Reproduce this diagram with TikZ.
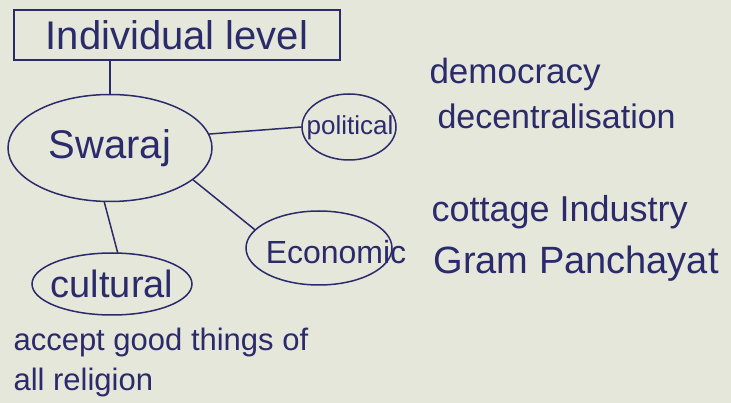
\documentclass[tikz,border=0pt]{standalone}
\usepackage{fontspec}
\setmainfont{Liberation Sans}
\usetikzlibrary{shapes.geometric}
\definecolor{inkblue}{HTML}{2B2A6B}
\definecolor{paper}{HTML}{E5E7DB}
\newcommand\fsz[1]{\fontsize{#1}{#1}\selectfont}
\tikzset{every node/.style={font=\fsz{34},text=inkblue},
  ink/.style={draw=inkblue,line width=1.5pt},
  bubble/.style={ink,ellipse,inner sep=0pt},
  notes/.style={anchor=west,align=left}}

\begin{document}
\begin{tikzpicture}[x=1pt,y=-1pt,line cap=round]
  \fill[paper] (0,0) rectangle (731,403);
  \path[use as bounding box] (0,0) rectangle (731,403);
  % top box and centre
  \node[ink,rectangle,minimum width=326pt,minimum height=50pt,font=\fsz{40}] (level) at (177,35) {Individual level};
  \node[bubble,minimum width=204pt,minimum height=107pt] (swaraj) at (110,148) {};
  \node[font=\fsz{40}] (swarajtxt) at (swaraj) {Swaraj};
  % the three branches (ellipses first, words on top)
  \node[bubble,minimum width=94pt,minimum height=66pt] (political) at (349,127) {};
  \node[bubble,minimum width=146pt,minimum height=74pt] (economic) at (319,248) {};
  \node[bubble,minimum width=160pt,minimum height=62pt] (cultural) at (112,284) {};
  \node[font=\fsz{26}] (politicaltxt) at (350,128) {political};
  \node[font=\fsz{32}] (economictxt) at (336,252) {Economic};
  \node[font=\fsz{38}] (culturaltxt) at (112,284) {cultural};
  % notes beside the branches
  \node[notes,font=\fsz{35}] (democracy) at (426,74) {democracy};
  \node[notes] (decentral) at (434,116) {decentralisation};
  \node[notes,font=\fsz{36}] (cottage) at (428,212) {cottage Industry};
  \node[notes,font=\fsz{38}] (gram) at (430,264) {Gram Panchayat};
  \node[notes,font=\fontsize{31}{40}\selectfont] (accept) at (10,362) {accept good things of\\all religion};
  % connectors
  \draw[ink] (level.south -| swaraj.north) -- (swaraj.north);
  \draw[ink] (swaraj.8) -- (political.west);
  \draw[ink] (swaraj.-21) -- (economic.164);
  \draw[ink] (swaraj.-96) -- (cultural.80);
\end{tikzpicture}
\end{document}
